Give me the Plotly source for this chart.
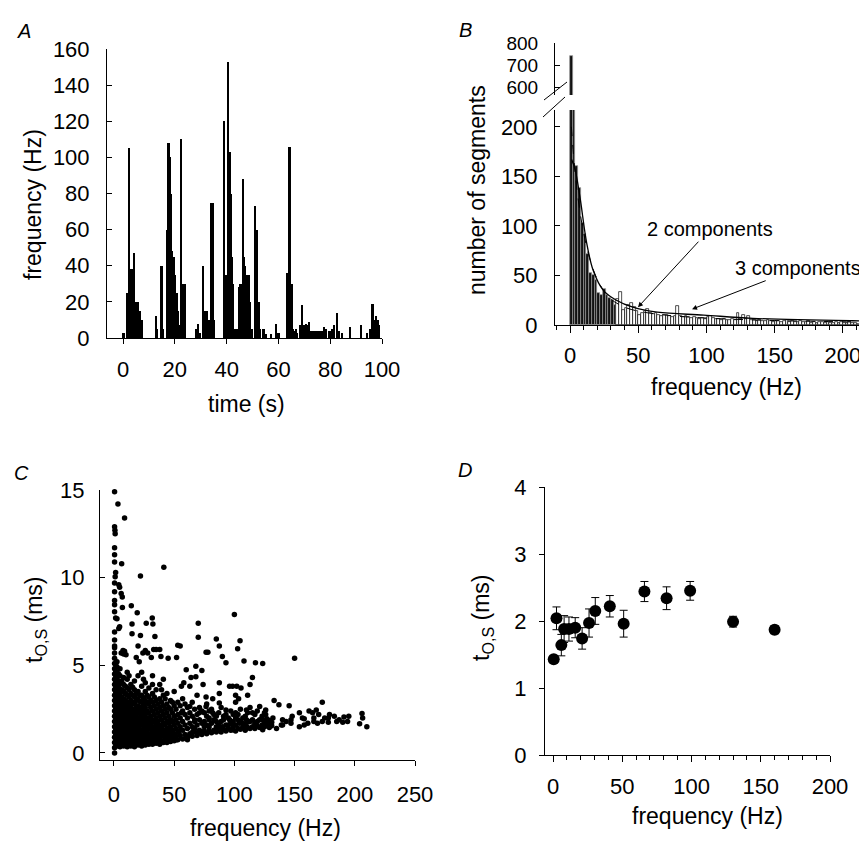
import plotly.graph_objects as go

OFF = 8                      # page body margin of the browser
W, H = 867 - OFF, 842 - OFF  # figure size so it fits the window exactly
FONT = "Liberation Sans, Arial, sans-serif"

# ---------------- Panel A: instantaneous frequency vs time ----------------
a_time = [0.3, 1.7, 2.3, 2.8, 3.3, 3.8, 4.3, 4.8, 5.3, 5.9, 6.5, 7.5,
          12.9, 13.3, 15.0, 15.5, 17.0, 17.6, 18.1, 18.6, 19.1, 19.6, 20.2, 20.7,
          21.3, 21.8, 22.6, 23.3, 23.9,
          28.5, 29.1, 29.8, 31.0, 31.5, 32.6, 33.3, 34.0, 34.7, 35.0,
          39.0, 39.5, 40.0, 40.75, 41.2, 41.7, 42.1, 42.6, 43.3, 44.2, 45.0, 45.5,
          46.3, 46.8, 47.3, 47.9, 48.5, 49.2, 49.8, 51.1, 51.7, 52.4, 53.0, 54.3,
          55.2, 57.1, 59.2, 60.1,
          63.6, 64.4, 65.1, 65.7, 66.3, 66.9, 67.3, 68.3, 68.8, 69.1, 69.9, 70.3,
          70.8, 71.2, 71.8, 72.5, 73.2, 73.8, 74.4, 75.0, 75.7, 76.4, 77.1, 77.8,
          78.6, 79.5, 80.2, 80.9, 81.5, 82.8, 83.4, 84.7, 87.7, 92.1, 94.2, 95.5,
          96.4, 97.1, 97.7, 98.3, 99.0]
a_freq = [3, 25, 105, 15, 38, 15, 47, 14, 20, 20, 15, 10,
          12, 5, 40, 5, 60, 108, 100, 80, 48, 45, 35, 25,
          15, 7, 110, 30, 30,
          5, 8, 3, 40, 15, 15, 10, 75, 75, 10,
          120, 25, 35, 153, 103, 80, 45, 30, 5, 5, 28, 30,
          88, 45, 40, 35, 35, 20, 5, 73, 60, 20, 5, 5,
          2, 2, 8, 3,
          36, 106, 30, 5, 4, 5, 3, 7, 6, 18, 7, 6,
          8, 7, 9, 4, 4, 4, 4, 4, 4, 4, 4, 6,
          5, 4, 4, 5, 7, 14, 4, 3, 6, 7, 3, 5,
          19, 10, 12, 10, 7]
a_xticks = [0, 20, 40, 60, 80, 100]
a_yticks = [0, 20, 40, 60, 80, 100, 120, 140, 160]

# ---------------- Panel B: histogram of segment frequencies ----------------
b_bin_width = 2
b_counts = [740, 230, 160, 138, 103, 92, 72, 52, 50, 45,
            32, 30, 36, 30, 27, 25, 20, 26, 33, 15,
            17, 20, 22, 18, 14, 10, 12, 14, 16, 12,
            11, 12, 10, 9, 10, 10, 9, 8, 9, 19,
            9, 8, 9, 8, 7, 8, 7, 6, 7, 6,
            8, 9, 7, 6, 6, 5, 6, 5, 5, 6,
            5, 12, 6, 10, 6, 9, 5, 5, 4, 5,
            4, 4, 5, 4, 3, 4, 4, 3, 4, 5,
            3, 4, 3, 3, 4, 3, 3, 4, 2, 3,
            2, 3, 3, 2, 3, 2, 2, 3, 2, 3,
            2, 2, 3, 2, 2, 1]
b_fit2_f = [1, 4, 8, 12, 16, 20, 25, 30, 40, 50, 70, 100, 150, 215]
b_fit2_n = [200, 150, 108, 80, 60, 46, 34, 26, 18, 14, 10, 7, 4.5, 3]
b_fit3_f = [1.2, 3.7, 7.3, 12.2, 17, 24.4, 34, 46, 64, 98, 134, 207, 215]
b_fit3_n = [167, 157, 129, 83, 55, 35, 25, 18, 13, 10, 6.7, 4.3, 4.2]
b_xticks = [0, 50, 100, 150, 200]
b_yticks_low = [0, 50, 100, 150, 200]
b_yticks_high = [600, 700, 800]

# ---------------- Panel C: t_O,S vs frequency (scatter) ----------------
c_sparse = [(0.5, 14.9), (3.3, 14.2), (8.8, 13.4), (0.5, 12.9), (0.8, 12.7), (1, 12.5),
            (0.5, 11.7), (0.5, 11.3), (0.5, 10.9), (6.4, 10.8), (1.4, 10.3), (1, 10.05),
            (22, 10.1), (41.4, 10.6), (0.5, 9.7), (4, 9.6), (4.7, 9.45), (0.5, 9.2),
            (6, 9.1), (6.9, 8.9), (0.5, 8.7), (0.5, 8.45), (7, 8.3), (14.4, 8.4),
            (0.5, 8.05), (19.3, 8.0), (1.4, 7.7), (2.5, 7.65), (4.7, 7.2), (15, 7.35),
            (26.8, 7.4), (31.8, 7.7), (32.3, 7.35), (0.5, 6.9), (4, 7.1), (15, 6.8),
            (22, 6.7), (34, 6.65), (0.5, 6.45), (0.5, 6.1), (20, 6.1), (70, 7.4),
            (70, 6.6), (100, 7.9), (85, 6.5), (87.5, 6.1), (104.7, 6.4), (102.7, 5.95),
            (76.5, 5.75), (78, 5.75), (53, 6.15), (55, 6.1), (90, 5.5), (93, 5.15),
            (108, 5.25), (117.5, 5.15), (123.5, 5.1), (150, 5.4), (26, 5.85), (24, 5.7),
            (33, 5.9), (35, 5.9), (38, 5.9), (39, 5.5), (45, 5.4), (52, 5.45),
            (7.5, 5.85), (8.8, 5.8), (10, 5.6), (6, 5.7), (8, 5.65), (18.5, 5.45),
            (21, 5.2), (28, 5.7), (31, 5.45),
            (60, 4.75), (68, 4.95), (73, 4.7), (68, 4.35), (64, 4.3), (58, 4.0),
            (56, 3.8), (63, 3.8), (74, 3.9), (87.5, 4.0), (96, 3.8), (98.5, 3.8),
            (102, 3.8), (105.5, 3.7), (115, 4.3), (113, 3.9), (111, 3.3), (101, 3.3),
            (103.5, 3.1), (87.5, 3.4), (82, 3.1), (76.5, 3.2), (87.5, 2.85), (133, 3.0),
            (137, 2.75), (145.5, 2.7), (173, 2.9), (168, 2.45), (162, 2.4), (154, 2.3),
            (148, 2.1), (156.5, 2.0), (165, 2.3), (170, 2.2), (175, 2.0), (179, 2.2),
            (183, 2.1), (187, 1.9), (191, 2.05), (195, 2.1), (194, 1.8), (206, 2.25),
            (206.5, 2.0), (204, 1.67), (210, 1.5), (173, 1.8), (169, 1.7), (161, 1.7),
            (154, 1.5), (143, 1.8), (139, 1.6), (132, 2.0), (129, 1.7), (135, 1.4),
            (123.5, 1.9), (123.5, 1.33), (118, 1.6), (115, 2.3), (121, 2.65), (126, 2.45),
            (126, 2.2), (110, 2.45), (110, 1.9), (104, 1.7), (98.5, 1.33), (101, 2.3),
            (96, 1.9), (93, 2.45), (90, 1.5), (85, 1.8), (82, 2.3), (76.5, 2.65),
            (79, 1.9), (75, 1.5), (71, 2.3), (71, 1.15), (67, 1.8), (65.5, 1.23),
            (63, 2.65), (61, 0.75), (60, 0.95), (56, 2.3), (54, 1.23), (52, 0.75),
            (49, 1.8), (46, 1.05), (0.5, 0.0)]
c_col_freq = [0.5, 2.5, 5, 8, 11, 14, 17, 20, 23, 26, 29, 32, 35, 38, 41, 44, 47,
              50, 53, 57, 61, 65, 69, 73, 77, 81, 85, 89, 93, 97, 101, 105, 109,
              113, 117, 121, 125, 129,
              1.5, 3.8, 6.5, 9.5, 12.5, 15.5, 18.5, 21.5, 24.5, 27.5, 30.5, 33.5,
              36.5, 39.5, 42.5, 45.5, 48.5, 51.5, 55, 59, 63, 67, 71, 75, 79, 83,
              87, 91, 95, 99, 103, 107, 111, 115, 119, 123, 127, 131, 140, 147,
              158, 166, 178, 185, 190]
c_col_tos = [
    [0.3, 0.6, 0.9, 1.2, 1.5, 1.8, 2.1, 2.4, 2.7, 3.0, 3.3, 3.6, 3.9, 4.2, 4.5, 4.8, 5.1, 5.4, 5.7, 6.0],
    [0.4, 0.7, 1.0, 1.3, 1.6, 1.9, 2.2, 2.5, 2.8, 3.1, 3.4, 3.7, 4.0, 4.3, 4.6, 4.9, 5.2],
    [0.35, 0.65, 0.95, 1.25, 1.55, 1.85, 2.15, 2.45, 2.75, 3.05, 3.35, 3.65, 4.0, 4.4, 4.8],
    [0.4, 0.7, 1.0, 1.3, 1.6, 1.9, 2.2, 2.5, 2.8, 3.1, 3.5, 3.9, 4.3],
    [0.35, 0.65, 0.95, 1.3, 1.6, 1.9, 2.2, 2.6, 2.9, 3.3, 3.7, 4.2, 4.6],
    [0.4, 0.7, 1.0, 1.3, 1.7, 2.0, 2.3, 2.7, 3.0, 3.4, 3.9],
    [0.35, 0.7, 1.0, 1.3, 1.6, 2.0, 2.4, 2.8, 3.2, 3.6, 4.1],
    [0.45, 0.75, 1.05, 1.4, 1.7, 2.0, 2.4, 2.7, 3.1, 3.5, 4.4],
    [0.4, 0.7, 1.0, 1.3, 1.7, 2.1, 2.5, 2.9, 3.3, 3.8, 4.6],
    [0.45, 0.75, 1.1, 1.4, 1.8, 2.2, 2.6, 3.0, 3.5, 4.0],
    [0.5, 0.8, 1.1, 1.5, 1.9, 2.3, 2.8, 3.2, 3.7],
    [0.5, 0.85, 1.2, 1.5, 1.9, 2.4, 2.9, 3.4, 3.9, 4.4],
    [0.55, 0.9, 1.25, 1.6, 2.0, 2.5, 3.0, 3.6],
    [0.5, 0.85, 1.2, 1.6, 2.1, 2.6, 3.1, 3.9],
    [0.6, 0.95, 1.3, 1.7, 2.2, 2.7, 3.3, 4.2],
    [0.6, 1.0, 1.4, 1.8, 2.3, 2.8, 3.4],
    [0.65, 1.05, 1.5, 1.9, 2.5, 3.0],
    [0.7, 1.1, 1.6, 2.1, 2.7, 3.5],
    [0.75, 1.2, 1.7, 2.2, 2.9],
    [0.8, 1.3, 1.8, 2.4, 3.1],
    [0.9, 1.4, 2.0, 2.6],
    [0.95, 1.5, 2.1, 2.9],
    [1.0, 1.6, 2.2, 3.3],
    [1.05, 1.7, 2.4],
    [1.1, 1.6, 2.1, 2.8],
    [1.15, 1.7, 2.5],
    [1.2, 1.5, 2.1],
    [1.2, 1.8, 2.6],
    [1.25, 1.6, 2.2],
    [1.3, 1.7, 2.4],
    [1.25, 1.6, 2.0, 2.9],
    [1.35, 1.8, 2.5],
    [1.3, 1.6, 2.1],
    [1.4, 1.8, 2.6],
    [1.4, 1.7, 2.2],
    [1.45, 1.9],
    [1.5, 1.75, 2.3],
    [1.45, 1.85],
    # interleaved columns
    [0.45, 0.75, 1.05, 1.35, 1.65, 1.95, 2.25, 2.55, 2.85, 3.15, 3.45, 3.75, 4.05, 4.35, 4.65, 5.0],
    [0.5, 0.8, 1.1, 1.4, 1.7, 2.0, 2.3, 2.6, 2.9, 3.2, 3.5, 3.8, 4.1, 4.5],
    [0.5, 0.8, 1.1, 1.4, 1.7, 2.0, 2.3, 2.6, 2.9, 3.2, 3.6, 4.1],
    [0.5, 0.85, 1.15, 1.45, 1.75, 2.05, 2.4, 2.7, 3.0, 3.4, 3.8],
    [0.5, 0.8, 1.15, 1.45, 1.8, 2.1, 2.45, 2.8, 3.2, 3.6, 4.4],
    [0.55, 0.85, 1.15, 1.5, 1.85, 2.2, 2.5, 2.9, 3.3, 3.75],
    [0.5, 0.85, 1.2, 1.5, 1.8, 2.2, 2.6, 3.0, 3.4],
    [0.6, 0.9, 1.2, 1.55, 1.9, 2.25, 2.6, 2.95, 3.3],
    [0.55, 0.85, 1.2, 1.55, 1.95, 2.35, 2.75, 3.15, 4.2],
    [0.6, 0.95, 1.3, 1.65, 2.0, 2.4, 2.85, 3.3],
    [0.65, 1.0, 1.35, 1.7, 2.1, 2.6, 3.0],
    [0.7, 1.05, 1.4, 1.75, 2.2, 2.7, 3.2],
    [0.7, 1.05, 1.4, 1.8, 2.3, 2.8],
    [0.7, 1.1, 1.45, 1.9, 2.4, 2.9, 3.6],
    [0.8, 1.2, 1.6, 2.0, 2.5, 3.1],
    [0.85, 1.25, 1.7, 2.1, 2.6],
    [0.9, 1.3, 1.8, 2.3, 2.9],
    [0.95, 1.4, 1.9, 2.5],
    [1.0, 1.5, 2.0, 2.7],
    [1.05, 1.6, 2.2, 2.8],
    [1.1, 1.7, 2.3],
    [1.2, 1.4, 1.9, 2.5],
    [1.3, 1.9, 2.6],
    [1.25, 1.8, 2.3],
    [1.3, 1.5, 2.0, 2.4],
    [1.3, 1.9, 2.2],
    [1.4, 1.6, 2.3],
    [1.35, 1.9, 2.1],
    [1.4, 1.6, 2.0],
    [1.5, 1.8, 2.2],
    [1.4, 1.9, 2.2],
    [1.5, 1.7, 2.0],
    [1.45, 1.75, 2.3],
    [1.5, 1.9],
    [1.55, 1.8, 2.4],
    [1.6, 2.1],
    [1.6, 1.95],
    [1.55, 1.75],
    [1.6, 1.9],
    [1.7, 1.9],
    [1.6, 1.95],
    [1.8, 2.0],
    [1.75, 2.0],
    [1.8],
    [1.75],
]
c_xticks = [0, 50, 100, 150, 200, 250]
c_yticks = [0, 5, 10, 15]

# ---------------- Panel D: mean t_O,S per frequency bin ----------------
d_freq = [0.5, 2.5, 6, 8, 11.5, 16, 21, 26, 30.5, 41, 51, 66, 82, 99, 130, 160]
d_tos = [1.43, 2.04, 1.64, 1.88, 1.88, 1.90, 1.74, 1.97, 2.15, 2.22, 1.96, 2.44, 2.34, 2.45, 1.99, 1.87]
d_err = [0.05, 0.17, 0.16, 0.2, 0.18, 0.15, 0.16, 0.21, 0.2, 0.16, 0.2, 0.15, 0.17, 0.14, 0.08, 0.06]
d_xticks = [0, 50, 100, 150, 200]
d_yticks = [0, 1, 2, 3, 4]


# ---------------- helpers (window pixel -> paper) ----------------
def px(x):
    return (x - OFF) / W


def py(y):
    return 1 - (y - OFF) / H


def dx(a, b):
    return [px(a), px(b)]


def dy(top, bottom):
    return [py(bottom), py(top)]


TICKFONT = dict(size=22, color="black", family=FONT)


def axis(**kw):
    d = dict(showline=True, linecolor="black", linewidth=1, showgrid=False,
             zeroline=False, ticks="outside", tickcolor="black", ticklen=5,
             tickwidth=1, tickfont=TICKFONT, fixedrange=True, automargin=False)
    d.update(kw)
    return d


fig = go.Figure()

# A
fig.add_trace(go.Bar(x=a_time, y=a_freq, width=0.7, marker=dict(color="black", line=dict(width=0)),
                     xaxis="x", yaxis="y", showlegend=False))

# B
b_centers = [b_bin_width * i + b_bin_width / 2 for i in range(len(b_counts))]
b_fill = ["#111111" if c < 34 else "white" for c in b_centers]
b_line = ["#9a9a9a" if c < 34 else "black" for c in b_centers]
fig.add_trace(go.Bar(x=b_centers, y=b_counts, width=b_bin_width,
                     marker=dict(color=b_fill, line=dict(color=b_line, width=0.7)),
                     xaxis="x2", yaxis="y2", showlegend=False))
hi_x = [c for c, n in zip(b_centers, b_counts) if n > 564]
hi_y = [n for n in b_counts if n > 564]
fig.add_trace(go.Bar(x=hi_x, y=hi_y, width=b_bin_width,
                     marker=dict(color="#111111", line=dict(color="#9a9a9a", width=0.7)),
                     xaxis="x2", yaxis="y5", showlegend=False))
fig.add_trace(go.Scatter(x=b_fit2_f, y=b_fit2_n, mode="lines", line=dict(color="black", width=1, dash="dash", shape="spline"),
                         xaxis="x2", yaxis="y2", showlegend=False))
fig.add_trace(go.Scatter(x=b_fit3_f, y=b_fit3_n, mode="lines", line=dict(color="black", width=1.3, shape="spline"),
                         xaxis="x2", yaxis="y2", showlegend=False))

# C
c_x = [p[0] for p in c_sparse]
c_y = [p[1] for p in c_sparse]
for f, vals in zip(c_col_freq, c_col_tos):
    c_x += [f] * len(vals)
    c_y += vals
fig.add_trace(go.Scatter(x=c_x, y=c_y, mode="markers", marker=dict(color="black", size=5.5),
                         xaxis="x3", yaxis="y3", showlegend=False, cliponaxis=False))

# D
fig.add_trace(go.Scatter(x=d_freq, y=d_tos, mode="markers",
                         marker=dict(color="black", size=12),
                         error_y=dict(type="data", array=d_err, color="black", thickness=1, width=4),
                         xaxis="x4", yaxis="y4", showlegend=False))

layout = dict(
    width=W, height=H, margin=dict(l=0, r=0, t=0, b=0, autoexpand=False),
    paper_bgcolor="white", plot_bgcolor="white", bargap=0,
    font=dict(family=FONT, color="black"),
    # A
    xaxis=axis(domain=dx(107, 382), range=[-6.2, 100], tickvals=a_xticks, anchor="y", ticklabelstandoff=7),
    yaxis=axis(domain=dy(49, 338), range=[0, 160], tickvals=a_yticks, anchor="x", ticks="inside", ticklabelstandoff=12),
    # B
    xaxis2=axis(domain=dx(555, 867), range=[-11, 217.6], tickvals=b_xticks, anchor="y2", ticklen=7,
                ticklabelstandoff=4, minor=dict(dtick=10, tick0=0, ticklen=4, ticks="outside", tickcolor="black")),
    yaxis2=axis(domain=dy(110, 325), range=[0, 217], tickvals=b_yticks_low, anchor="x2", ticks="inside", ticklabelstandoff=12),
    yaxis5=axis(domain=dy(43, 95), range=[564, 800], tickvals=b_yticks_high, anchor="x2", ticks="inside",
                ticklabelstandoff=12, tickfont=dict(size=19, color="black", family=FONT)),
    # C
    xaxis3=axis(domain=dx(100, 415), range=[-11.6, 250], tickvals=c_xticks, anchor="y3", ticklabelstandoff=10),
    yaxis3=axis(domain=dy(490, 760), range=[-0.4, 15], tickvals=c_yticks, anchor="x3", ticks="inside", ticklabelstandoff=10),
    # D
    xaxis4=axis(domain=dx(545, 830), range=[-5.8, 200], tickvals=d_xticks, anchor="y4", ticklen=6,
                ticklabelstandoff=6, minor=dict(dtick=10, tick0=0, ticklen=4, ticks="outside", tickcolor="black")),
    yaxis4=axis(domain=dy(487, 755), range=[0, 4], tickvals=d_yticks, anchor="x4", ticklabelstandoff=8),
)
fig.update_layout(**layout)

ann = []


def label(x, y, text, angle=0, size=23):
    ann.append(dict(x=px(x), y=py(y), xref="paper", yref="paper", text=text, showarrow=False,
                    xanchor="center", yanchor="middle", textangle=angle,
                    font=dict(size=size, color="black", family=FONT)))


# panel letters
label(24, 31, "<i>A</i>", size=20)
label(465, 30, "<i>B</i>", size=20)
label(22, 473, "<i>C</i>", size=20)
label(465, 470, "<i>D</i>", size=20)
# axis titles
label(33, 205, "frequency (Hz)", angle=-90)
label(247, 404, "time (s)")
label(477, 190, "number of segments", angle=-90)
label(726, 387, "frequency (Hz)")
label(35, 620, "t<sub>O,S</sub> (ms)", angle=-90)
label(265, 828, "frequency (Hz)")
label(482, 617, "t<sub>O,S</sub> (ms)", angle=-90)
label(707, 816, "frequency (Hz)")

# arrows in B
ann.append(dict(x=49.8, y=18, xref="x2", yref="y2", text="2 components", showarrow=True,
                ax=72, ay=-78, arrowhead=2, arrowsize=1, arrowwidth=1, arrowcolor="black",
                font=dict(size=20, color="black", family=FONT)))
ann.append(dict(x=89.4, y=16, xref="x2", yref="y2", text="3 components", showarrow=True,
                ax=106, ay=-41, arrowhead=2, arrowsize=1, arrowwidth=1, arrowcolor="black",
                font=dict(size=20, color="black", family=FONT)))
fig.update_layout(annotations=ann)

# axis break slashes in B
fig.add_shape(type="line", xref="paper", yref="paper", x0=px(544), y0=py(100), x1=px(567), y1=py(82),
              line=dict(color="black", width=1))
fig.add_shape(type="line", xref="paper", yref="paper", x0=px(543), y0=py(117), x1=px(565), y1=py(97),
              line=dict(color="black", width=1))

fig.write_html("out.html")
